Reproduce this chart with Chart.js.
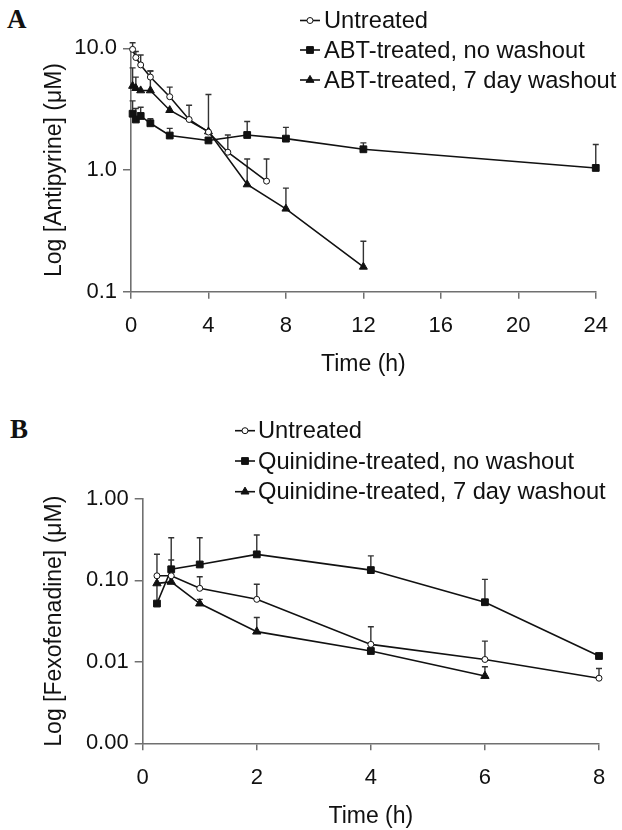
<!doctype html>
<html>

<head>
	<title>Antipyrine / Fexofenadine</title>
	<meta charset=utf-8>
	<script src="https://cdn.jsdelivr.net/npm/chart.js@4.4.1/dist/chart.umd.min.js"></script>
	<style>
		body { margin: 0; background: #fff; overflow: hidden; }
		#wrap { position: relative; width: 622px; height: 830px; }
		canvas { position: absolute; left: 0; }
		.panel { position: absolute; font: bold 27px "Liberation Serif", "DejaVu Serif", serif; color: #111; }
	</style>
</head>

<body>
	<div id="wrap">
		<div class="panel" style="left:7px; top:4px">A</div>
		<div class="panel" style="left:10px; top:414px">B</div>
		<canvas id="chartA" width="622" height="400" style="top:0"></canvas>
		<canvas id="chartB" width="622" height="430" style="top:400px"></canvas>
	</div>

	<script>
		// ---- panel A : antipyrine ----
		var labelsA = ['Untreated', 'ABT-treated, no washout', 'ABT-treated, 7 day washout'];

		var timeA1 = [0.083, 0.25, 0.5, 1, 2, 3, 4, 5, 7];
		var untreatedA = [9.8, 8.4, 7.3, 5.8, 4.0, 2.6, 2.05, 1.40, 0.81];
		var untreatedA_sd = [1.3, 1.0, 1.5, 0.7, 0.8, 0.8, 0, 0.54, 0.42];

		var timeA2 = [0.083, 0.25, 0.5, 1, 2, 4, 6, 8, 12, 24];
		var noWashA = [2.9, 2.6, 2.78, 2.42, 1.92, 1.75, 1.94, 1.81, 1.48, 1.04];
		var noWashA_sd = [0.8, 0.6, 0.5, 0.22, 0.28, 0, 0.56, 0.43, 0.19, 0.58];

		var timeA3 = [0.083, 0.25, 0.5, 1, 2, 4, 6, 8, 12];
		var washA = [4.9, 4.7, 4.5, 4.5, 3.1, 2.07, 0.76, 0.48, 0.16];
		var washA_sd = [2.0, 1.1, 0, 2.0, 0, 2.1, 0.47, 0.23, 0.10];

		var ticksA_x = [0, 4, 8, 12, 16, 20, 24];
		var ticksA_y = [0.1, 1, 10];

		// ---- panel B : fexofenadine ----
		var labelsB = ['Untreated', 'Quinidine-treated, no washout', 'Quinidine-treated, 7 day washout'];

		var timeB1 = [0.25, 0.5, 1, 2, 4, 6, 8];
		var untreatedB = [0.114, 0.114, 0.080, 0.0586, 0.0164, 0.0107, 0.0063];
		var untreatedB_sd = [0, 0.064, 0.031, 0.031, 0.0106, 0.0073, 0.002];

		var timeB2 = [0.25, 0.5, 1, 2, 4, 6, 8];
		var noWashB = [0.052, 0.137, 0.157, 0.209, 0.134, 0.054, 0.0118];
		var noWashB_sd = [0.158, 0.198, 0.178, 0.152, 0.066, 0.049, 0];

		var timeB3 = [0.25, 0.5, 1, 2, 4, 6];
		var washB = [0.092, 0.096, 0.052, 0.0235, 0.0136, 0.0067];
		var washB_sd = [0, 0, 0.0066, 0.0115, 0, 0.002];

		var ticksB_x = [0, 2, 4, 6, 8];
		var ticksB_y = [0.001, 0.01, 0.1, 1];

		var axisColor = '#707070';
		var inkColor = '#111';
		var sans = '"Liberation Sans", Arial, sans-serif';

		function pts(xs, ys) {
			return xs.map(function(x, i) { return { x: x, y: ys[i] }; });
		}

		function series(label, xs, ys, sd, style, fill) {
			return {
				label: label,
				data: pts(xs, ys),
				sd: sd,
				borderColor: inkColor,
				borderWidth: 1.6,
				pointStyle: style,
				pointRadius: style === 'circle' ? 3 : (style === 'triangle' ? 4.6 : 4.8),
				pointBorderWidth: 1,
				pointBorderColor: inkColor,
				pointBackgroundColor: fill,
				tension: 0,
				clip: false
			};
		}

		// upper error bars, drawn under the markers
		var errorBars = {
			id: 'errorBars',
			beforeDatasetsDraw: function(chart) {
				var ctx = chart.ctx;
				var ys = chart.scales.y;
				ctx.save();
				ctx.strokeStyle = '#333';
				ctx.lineWidth = 1.4;
				chart.data.datasets.forEach(function(ds, i) {
					var meta = chart.getDatasetMeta(i);
					ds.data.forEach(function(p, j) {
						var sd = ds.sd[j];
						if (!sd) return;
						var px = meta.data[j].x;
						var y0 = ys.getPixelForValue(p.y);
						var y1 = ys.getPixelForValue(p.y + sd);
						ctx.beginPath();
						ctx.moveTo(px, y0);
						ctx.lineTo(px, y1);
						ctx.moveTo(px - 3, y1);
						ctx.lineTo(px + 3, y1);
						ctx.stroke();
					});
				});
				ctx.restore();
			}
		};

		function marker(ctx, style, x, y, fill) {
			ctx.beginPath();
			if (style === 'circle') {
				ctx.arc(x, y, 3, 0, Math.PI * 2);
			} else if (style === 'rect') {
				ctx.rect(x - 3.4, y - 3.4, 6.8, 6.8);
			} else {
				ctx.moveTo(x, y - 4.6);
				ctx.lineTo(x + 4, y + 2.3);
				ctx.lineTo(x - 4, y + 2.3);
				ctx.closePath();
			}
			ctx.fillStyle = fill;
			ctx.fill();
			ctx.lineWidth = 1;
			ctx.strokeStyle = inkColor;
			ctx.stroke();
		}

		// legend: line with marker, then the label
		var sideLegend = {
			id: 'sideLegend',
			afterDraw: function(chart, args, opts) {
				var ctx = chart.ctx;
				ctx.save();
				ctx.font = '23.7px ' + sans;
				ctx.textBaseline = 'middle';
				chart.data.datasets.forEach(function(ds, i) {
					var y = opts.rows[i];
					var style = Array.isArray(ds.pointStyle) ? ds.pointStyle[0] : ds.pointStyle;
					ctx.strokeStyle = inkColor;
					ctx.lineWidth = 1.6;
					ctx.beginPath();
					ctx.moveTo(opts.x0, y);
					ctx.lineTo(opts.x1, y);
					ctx.stroke();
					marker(ctx, style, (opts.x0 + opts.x1) / 2, y, ds.pointBackgroundColor);
					ctx.fillStyle = inkColor;
					ctx.fillText(ds.label, opts.textX, y + 1);
				});
				ctx.restore();
			}
		};

		function makeChart(id, datasets, o) {
			return new Chart(document.getElementById(id).getContext('2d'), {
				type: 'line',
				data: { datasets: datasets },
				plugins: [errorBars, sideLegend],
				options: {
					responsive: false,
					animation: false,
					devicePixelRatio: 1,
					layout: { padding: o.padding },
					plugins: {
						legend: { display: false },
						tooltip: { enabled: false },
						sideLegend: o.legend
					},
					scales: {
						x: {
							type: 'linear',
							min: o.xTicks[0],
							max: o.xTicks[o.xTicks.length - 1],
							afterBuildTicks: function(s) { s.ticks = o.xTicks.map(function(v) { return { value: v }; }); },
							afterFit: function(s) { s.height = o.xHeight; },
							grid: { drawOnChartArea: false, tickLength: 7, color: axisColor, lineWidth: 1.5 },
							border: { color: axisColor, width: 1.6 },
							ticks: { color: inkColor, padding: 14, font: { family: sans, size: 22 } },
							title: { display: true, text: 'Time (h)', color: inkColor, padding: { top: 0, bottom: o.xTitlePad }, font: { family: sans, size: 23 } }
						},
						y: {
							type: 'logarithmic',
							min: o.yTicks[0],
							max: o.yTicks[o.yTicks.length - 1],
							afterBuildTicks: function(s) { s.ticks = o.yTicks.map(function(v) { return { value: v }; }); },
							afterFit: function(s) { s.width = o.yWidth; },
							grid: { drawOnChartArea: false, tickLength: 8, color: axisColor, lineWidth: 1.5 },
							border: { color: axisColor, width: 1.6 },
							ticks: {
								color: inkColor, padding: 6, font: { family: sans, size: 22 },
								callback: function(v) { return Number(v).toFixed(o.decimals); }
							},
							title: { display: true, text: o.yTitle, color: inkColor, padding: { top: 41, bottom: 0 }, font: { family: sans, size: 23 } }
						}
					}
				}
			});
		}

		window.chartA = makeChart('chartA', [
			series(labelsA[0], timeA1, untreatedA, untreatedA_sd, 'circle', '#fff'),
			series(labelsA[1], timeA2, noWashA, noWashA_sd, 'rect', inkColor),
			series(labelsA[2], timeA3, washA, washA_sd, 'triangle', inkColor)
		], {
			padding: { left: 0, top: 48.3, right: 13, bottom: 8.3 },
			xTicks: ticksA_x, yTicks: ticksA_y, decimals: 1,
			xHeight: 100, yWidth: 131, xTitlePad: 13,
			yTitle: 'Log [Antipyrine] (\u03bcM)',
			legend: { x0: 300, x1: 320, textX: 324, rows: [20.5, 50, 80] }
		});

		// one washout point at 4 h is plotted with a square in the original
		var washB_style = washB.map(function(v, i) { return timeB3[i] === 4 ? 'rect' : 'triangle'; });

		window.chartB = makeChart('chartB', [
			series(labelsB[0], timeB1, untreatedB, untreatedB_sd, 'circle', '#fff'),
			series(labelsB[1], timeB2, noWashB, noWashB_sd, 'rect', inkColor),
			series(labelsB[2], timeB3, washB, washB_sd, washB_style, inkColor)
		], {
			padding: { left: 0, top: 99, right: 23, bottom: 0 },
			xTicks: ticksB_x, yTicks: ticksB_y, decimals: 2,
			xHeight: 86.7, yWidth: 142.7, xTitlePad: 0,
			yTitle: 'Log [Fexofenadine] (\u03bcM)',
			legend: { x0: 235, x1: 255, textX: 258, rows: [30.7, 61, 91.7] }
		});
	</script>
</body>

</html>
